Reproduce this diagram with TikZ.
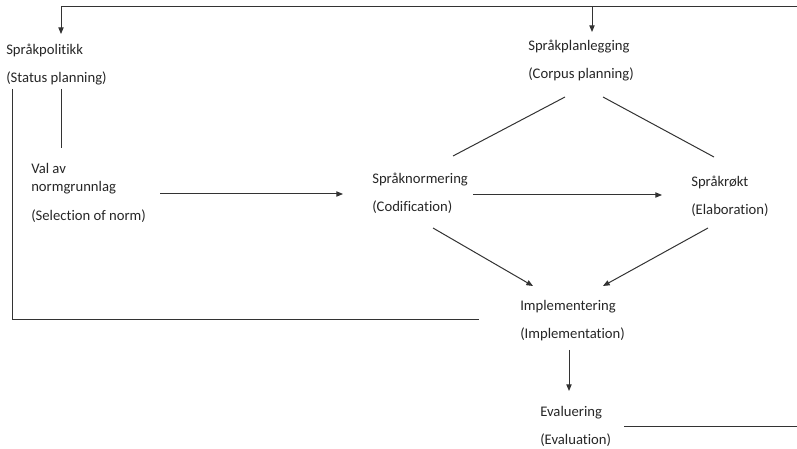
\documentclass[tikz,border=0pt]{standalone}
\usepackage{fontspec}
\setmainfont{Carlito}[Ligatures={NoCommon}]
\usetikzlibrary{arrows.meta}
\begin{document}
\begin{tikzpicture}[x=0.75pt,y=-0.75pt,
  lbl/.style={anchor=west,inner sep=0pt,text=black!85,font=\fontsize{11}{13}\selectfont},
  ln/.style={line width=0.75pt,draw=black!80},
  arr/.style={ln,-{Triangle[length=5pt,width=4pt]}}]
\useasboundingbox (0,0) rectangle (797,449);
% text nodes
\node[lbl] (pol) at (6,50) {Språkpolitikk};
\node[lbl] (polE) at (6,78) {(Status planning)};
\node[lbl] (plan) at (528,47) {Språkplanlegging};
\node[lbl] (planE) at (528,74) {(Corpus planning)};
\node[lbl] (val1) at (31,168) {Val av};
\node[lbl] (val2) at (31,188) {normgrunnlag};
\node[lbl] (valE) at (31,216) {(Selection of norm)};
\node[lbl] (norm) at (372,180) {Språknormering};
\node[lbl] (normE) at (372,207) {(Codification)};
\node[lbl] (rokt) at (691,182) {Språkrøkt};
\node[lbl] (roktE) at (691,210) {(Elaboration)};
\node[lbl] (impl) at (520,307) {Implementering};
\node[lbl] (implE) at (520,334) {(Implementation)};
\node[lbl] (eval) at (540,413) {Evaluering};
\node[lbl] (evalE) at (540,440) {(Evaluation)};
% coordinates
\coordinate (tl) at (61,7);
\coordinate (tm) at (592,7);
\coordinate (tr) at (797,7);
\coordinate (polTip) at (61,34);
\coordinate (planTip) at (592,32);
\coordinate (lb1) at (12,89);
\coordinate (lb2) at (12,320);
\coordinate (lb3) at (479,320);
\coordinate (v1) at (61,89);
\coordinate (v2) at (61,148);
\coordinate (a1s) at (160,194);
\coordinate (a1e) at (343,194);
\coordinate (p1s) at (565,97);
\coordinate (p1e) at (453,156);
\coordinate (p2s) at (603,97);
\coordinate (p2e) at (714,157);
\coordinate (a2s) at (473,195);
\coordinate (a2e) at (662,195);
\coordinate (c1s) at (433,228);
\coordinate (c1e) at (533,286);
\coordinate (c2s) at (708,228);
\coordinate (c2e) at (603,286);
\coordinate (ds) at (569,350);
\coordinate (de) at (569,391);
\coordinate (es) at (624,426);
\coordinate (ee) at (797,426);
% connectors
\draw[ln] (tl) -- (tr);
\draw[arr] (tl) -- (polTip);
\draw[arr] (tm) -- (planTip);
\draw[ln] (lb1) -- (lb2) -- (lb3);
\draw[ln] (v1) -- (v2);
\draw[arr] (a1s) -- (a1e);
\draw[ln] (p1s) -- (p1e);
\draw[ln] (p2s) -- (p2e);
\draw[arr] (a2s) -- (a2e);
\draw[arr] (c1s) -- (c1e);
\draw[arr] (c2s) -- (c2e);
\draw[arr] (ds) -- (de);
\draw[ln] (es) -- (ee);
\end{tikzpicture}
\end{document}
